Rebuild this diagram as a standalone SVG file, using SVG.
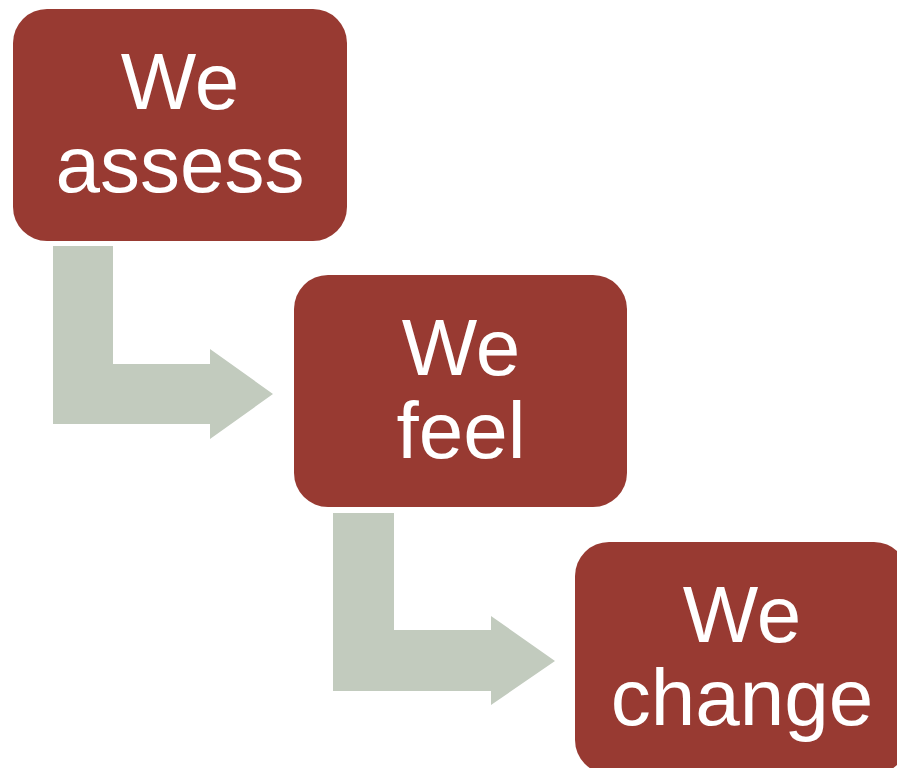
<svg xmlns="http://www.w3.org/2000/svg" width="897" height="768" viewBox="0 0 897 768">
  <style>
    .box { fill: #983A32; }
    .arrow { fill: #C2CBBE; }
    .label { font-family: "Liberation Sans", Arial, sans-serif; font-size: 80px; fill: #FFFFFF; text-anchor: middle; }
  </style>
  <rect width="897" height="768" fill="#FFFFFF"/>

  <!-- bent arrows between the steps -->
  <g id="connectors">
    <path class="arrow" d="M53,246 H113 V364 H210 V349 L273,394 L210,439 V424 H53 Z"/>
    <path class="arrow" d="M333,513 H394 V630 H491 V616 L555,661 L491,705 V691 H333 Z"/>
  </g>

  <g id="step-assess">
    <rect class="box" x="13" y="9" width="334" height="232" rx="34" ry="34"/>
    <text class="label" x="180" y="109">We</text>
    <text class="label" x="180" y="192">assess</text>
  </g>

  <g id="step-feel">
    <rect class="box" x="294" y="275" width="333" height="232" rx="34" ry="34"/>
    <text class="label" x="461" y="375">We</text>
    <text class="label" x="461" y="458">feel</text>
  </g>

  <g id="step-change">
    <rect class="box" x="575" y="542" width="333" height="232" rx="34" ry="34"/>
    <text class="label" x="742" y="642">We</text>
    <text class="label" x="742" y="725">change</text>
  </g>
</svg>
